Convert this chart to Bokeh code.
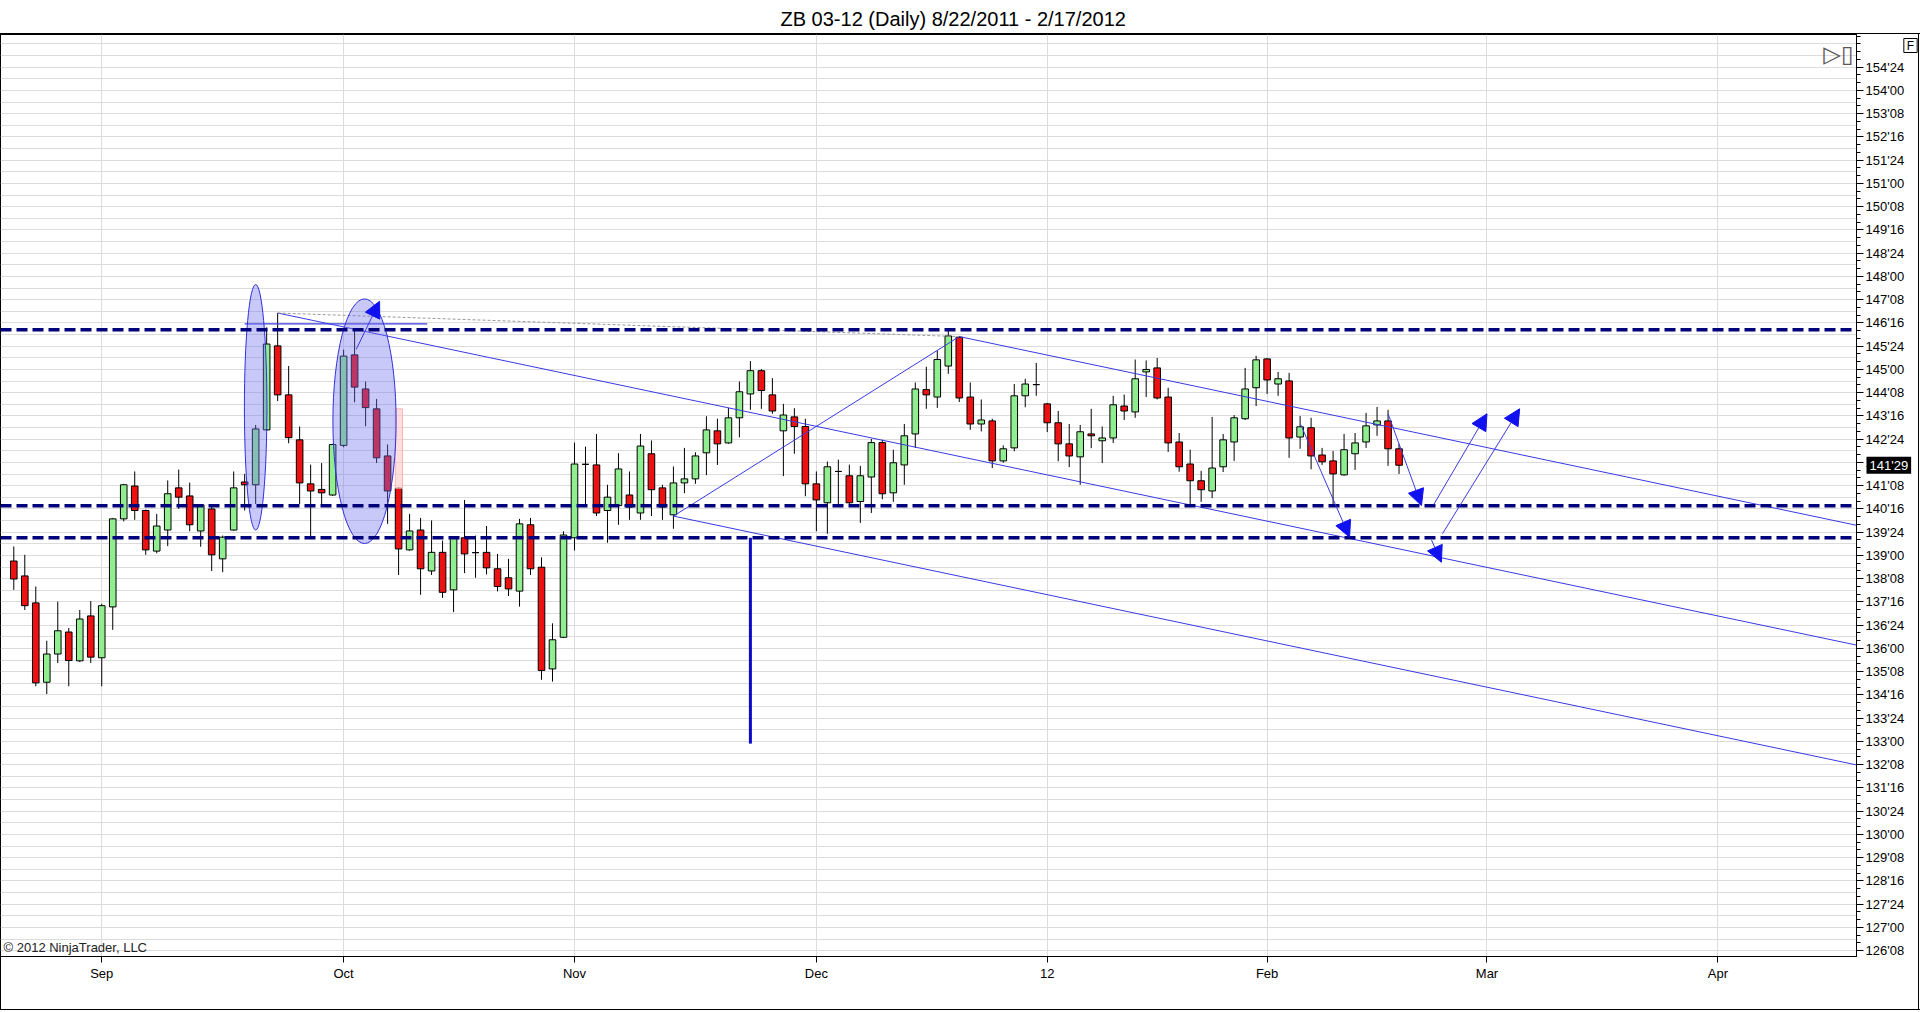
from bokeh.plotting import figure
from bokeh.models import (Range1d, FixedTicker, CustomJSTickFormatter, Span, Label,
                          Arrow, NormalHead, ColumnDataSource)
from bokeh.embed import file_html
from bokeh.resources import INLINE

title_text = "ZB 03-12 (Daily)  8/22/2011 - 2/17/2012"
copyright_text = "\u00a9 2012 NinjaTrader, LLC"
last_price_text = "141'29"
last_price = 141.906

# Daily OHLC, one bar per trading day (index 0 = 8/22/2011, last = 2/17/2012)
opens = [138.82, 138.34, 137.47, 134.91, 135.82, 136.53, 135.60, 137.05, 135.70, 137.34,
         140.18, 141.24, 140.45, 139.14, 139.82, 141.18, 140.92, 139.79, 140.50, 138.89,
         139.82, 141.37, 141.28, 143.05, 145.76, 144.18, 142.73, 141.31, 141.13, 140.95,
         142.55, 145.47, 144.37, 143.73, 142.21, 141.17, 139.18, 139.82, 138.50, 139.10,
         137.89, 139.57, 139.09, 139.10, 138.57, 138.28, 137.85, 139.99, 138.62, 135.34,
         136.36, 139.57, 141.94, 141.92, 140.45, 140.61, 140.95, 140.37, 142.28, 141.18,
         140.31, 141.34, 141.47, 142.31, 143.02, 142.63, 143.44, 144.21, 144.96, 144.18,
         143.02, 143.47, 143.16, 141.31, 140.70, 141.71, 141.57, 140.74, 141.53, 142.64,
         141.02, 141.92, 142.92, 144.35, 144.11, 145.11, 146.04, 144.11, 143.24, 143.34,
         142.05, 142.47, 144.15, 144.51, 143.89, 143.28, 142.60, 142.18, 142.92, 142.70,
         142.79, 143.82, 143.63, 144.92, 145.05, 144.11, 142.66, 141.95, 141.41, 141.08,
         141.86, 142.66, 143.41, 144.41, 145.34, 144.53, 144.63, 142.82, 143.12, 142.24,
         142.05, 141.60, 142.28, 142.66, 143.21, 143.34, 142.44]
highs = [139.29, 139.02, 138.00, 136.25, 137.51, 136.66, 137.24, 137.53, 137.44, 140.21,
         141.31, 141.71, 140.48, 140.34, 141.42, 141.77, 141.35, 140.66, 140.66, 139.64,
         141.71, 141.63, 143.21, 146.36, 146.82, 145.11, 143.16, 141.93, 141.98, 142.60,
         145.64, 146.31, 144.61, 144.05, 142.58, 141.20, 140.34, 140.21, 140.13, 139.48,
         139.59, 140.79, 139.64, 139.95, 139.05, 138.89, 140.18, 140.21, 138.94, 136.81,
         139.78, 142.64, 142.51, 142.92, 141.28, 142.30, 141.71, 142.92, 142.71, 141.28,
         141.87, 142.47, 142.33, 143.49, 143.41, 143.76, 144.61, 145.27, 145.01, 144.72,
         143.89, 143.75, 143.41, 141.71, 142.03, 142.09, 141.93, 141.89, 142.76, 142.73,
         142.41, 143.24, 144.58, 145.09, 145.61, 146.28, 146.08, 144.58, 144.03, 143.41,
         142.55, 144.53, 144.70, 145.21, 143.92, 143.66, 143.24, 143.21, 143.73, 143.16,
         144.15, 144.19, 145.32, 145.29, 145.37, 144.41, 142.95, 142.41, 141.73, 143.47,
         142.92, 143.53, 145.05, 145.44, 145.37, 144.92, 144.89, 143.50, 143.44, 142.47,
         142.37, 142.92, 142.95, 143.60, 143.79, 143.70, 142.60]
lows = [137.89, 137.24, 134.78, 134.53, 135.53, 134.78, 135.56, 135.53, 134.78, 136.60,
        140.10, 140.15, 139.02, 139.07, 139.30, 140.50, 139.78, 139.28, 138.50, 138.46,
        139.80, 140.45, 140.66, 143.02, 143.98, 142.62, 140.66, 139.59, 140.66, 140.92,
        142.49, 143.94, 143.17, 141.98, 140.02, 138.37, 139.15, 137.73, 138.37, 137.63,
        137.17, 138.43, 138.28, 138.39, 137.84, 137.69, 137.35, 138.37, 134.99, 134.93,
        136.34, 139.16, 140.61, 140.27, 139.41, 139.99, 140.15, 140.15, 140.27, 140.15,
        139.86, 141.01, 141.31, 141.59, 141.92, 142.60, 142.81, 143.70, 143.73, 143.57,
        141.56, 142.28, 140.91, 139.78, 139.70, 140.66, 140.66, 140.05, 140.37, 140.81,
        140.73, 141.28, 142.47, 143.73, 143.76, 144.86, 143.95, 143.05, 143.00, 141.82,
        141.99, 142.36, 143.78, 144.15, 142.98, 142.04, 141.85, 141.28, 142.46, 141.98,
        142.63, 143.37, 143.44, 144.11, 144.03, 142.34, 141.70, 140.60, 140.73, 140.85,
        141.69, 142.05, 143.37, 143.82, 144.21, 144.15, 142.15, 142.44, 141.78, 141.92,
        140.66, 141.57, 141.76, 142.47, 142.86, 141.89, 141.63]
closes = [138.24, 137.38, 134.89, 135.82, 136.57, 135.61, 136.95, 135.72, 137.38, 140.18,
          141.28, 140.45, 139.18, 139.95, 140.99, 140.88, 139.99, 140.63, 139.02, 139.59,
          141.18, 141.28, 143.08, 145.82, 144.18, 142.80, 141.34, 141.08, 141.02, 142.58,
          145.43, 144.43, 143.77, 142.15, 141.08, 139.21, 139.79, 138.57, 139.10, 137.81,
          139.57, 139.05, 139.09, 138.60, 138.00, 137.92, 140.02, 138.57, 135.29, 136.28,
          139.66, 141.95, 141.94, 140.37, 140.88, 141.79, 140.56, 142.53, 141.12, 140.56,
          141.34, 141.47, 142.21, 143.05, 142.60, 143.44, 144.28, 144.96, 144.32, 143.66,
          143.53, 143.16, 141.31, 140.79, 141.86, 141.71, 140.70, 141.57, 142.64, 140.99,
          141.99, 142.86, 144.37, 144.18, 145.32, 146.08, 144.08, 143.24, 143.37, 142.05,
          142.44, 144.15, 144.53, 144.51, 143.28, 142.60, 142.21, 142.99, 142.86, 142.79,
          143.86, 143.66, 144.70, 145.00, 144.08, 142.63, 141.86, 141.41, 141.12, 141.82,
          142.73, 143.44, 144.37, 145.31, 144.66, 144.70, 142.79, 143.15, 142.21, 142.02,
          141.63, 142.41, 142.63, 143.18, 143.34, 142.44, 141.91]

month_ticks = [8, 30, 51, 73, 94, 114, 134, 155]
month_labels = ["Sep", "Oct", "Nov", "Dec", "12", "Feb", "Mar", "Apr"]

# drawings
dashed_levels = [146.28, 140.60, 139.57]
pf_x = [24, 86, 60]            # pitchfork anchors (bar index)
pf_y = [146.82, 146.06, 140.27]
hline_x = [21.0, 37.6]
hline_y = [146.47, 146.47]
vline_x = [67, 67]
vline_y = [139.57, 132.93]
ell_x = [22.0, 31.9]
ell_y = [143.78, 143.33]
ell_w = [2.05, 5.75]
ell_h = [7.92, 7.89]
pink_box = [34.7, 35.35, 143.73, 141.17]  # left, right, top, bottom
arrow_x0 = [31.15, 117.06, 125.0, 129.15, 129.95, 128.95]
arrow_y0 = [145.65, 143.22, 143.57, 140.64, 139.70, 139.50]
arrow_x1 = [33.27, 121.5, 128.04, 134.0, 136.97, 129.85]
arrow_y1 = [147.20, 139.59, 140.61, 143.57, 143.73, 138.78]

# ---- layout (canvas pixels)
W, H = 1920, 1012
FRAME_L, FRAME_R, FRAME_T, FRAME_B = 0, 1857, 34, 956
BAR_PX, X0_PX = 11.0, 13.3
PT_PX, Y0_PX, Y0_P = 31.0, 66.7, 154.75
def ix(px):
    return (px - X0_PX) / BAR_PX
def py(pix):
    return Y0_P - (pix - Y0_PX) / PT_PX
def to_canvas_y(price):
    return Y0_PX + (Y0_P - price) * PT_PX

FONT = "Liberation Sans"
p = figure(width=W, height=H, output_backend="svg", toolbar_location=None,
           x_range=Range1d(ix(FRAME_L), ix(FRAME_R)), y_range=Range1d(py(FRAME_B), py(FRAME_T)),
           y_axis_location="right", min_border_left=FRAME_L, min_border_right=W - FRAME_R,
           min_border_top=FRAME_T, min_border_bottom=H - FRAME_B,
           background_fill_color="white", border_fill_color=None)
p.outline_line_color = "black"
p.outline_line_width = 1
# outer window box lines (drawn by CSS under the transparent border area)
p.styles = {
    "background-image": "linear-gradient(#000,#000), linear-gradient(#000,#000), "
                        "linear-gradient(#000,#000), linear-gradient(#000,#000)",
    "background-size": "100% 1px, 1px 977px, 100% 1px, 1px 977px",
    "background-position": "0px 33px, 1918px 33px, 0px 1009px, 0px 33px",
    "background-repeat": "no-repeat",
    "background-color": "white",
}

# title
p.title.text = title_text
p.title.text_font = FONT
p.title.text_font_size = "20px"
p.title.text_font_style = "normal"
p.title.text_color = "black"
p.title.align = "left"
p.title.offset = 780
p.title.standoff = 9

# grids
grid_levels = [126.25 + 0.375 * k for k in range(0, 80)]
p.ygrid.ticker = FixedTicker(ticks=grid_levels)
p.ygrid.grid_line_color = "#dcdcdc"
p.xgrid.ticker = FixedTicker(ticks=month_ticks)
p.xgrid.grid_line_color = "#dcdcdc"

# y axis (32nds)
price_ticks = [126.25 + 0.75 * k for k in range(39)]
minor_ticks = [126.0 + 0.25 * k for k in range(0, 120)]
ya = p.yaxis[0]
ya.ticker = FixedTicker(ticks=price_ticks, minor_ticks=minor_ticks)
ya.formatter = CustomJSTickFormatter(code="""
const w = Math.floor(tick + 1e-6);
const f = Math.round((tick - w) * 32);
return w + "'" + (f < 10 ? "0" + f : "" + f);
""")
ya.axis_line_color = "black"
ya.major_tick_out = 7
ya.major_tick_in = 0
ya.minor_tick_out = 4
ya.minor_tick_in = 0
ya.major_label_standoff = 2
ya.major_label_text_font = FONT
ya.major_label_text_font_size = "13px"
ya.major_label_text_color = "black"

xa = p.xaxis[0]
xa.ticker = FixedTicker(ticks=month_ticks)
xa.formatter = CustomJSTickFormatter(args=dict(mpos=month_ticks, mtxt=month_labels), code="""
const i = mpos.indexOf(Math.round(tick));
return i >= 0 ? mtxt[i] : "";
""")
xa.axis_line_color = "black"
xa.major_tick_out = 6
xa.major_tick_in = 0
xa.minor_tick_line_color = None
xa.major_label_standoff = 3
xa.major_label_text_font = FONT
xa.major_label_text_font_size = "13px"
xa.major_label_text_color = "black"

# candles
idx = list(range(len(opens)))
tops = [max(o, c) for o, c in zip(opens, closes)]
bots = [min(o, c) for o, c in zip(opens, closes)]
cols = ["#90ee90" if c > o else ("#ee1111" if c < o else "black") for o, c in zip(opens, closes)]
src = ColumnDataSource(dict(x=idx, o=opens, h=highs, l=lows, c=closes, t=tops, b=bots, col=cols))
p.segment(x0="x", y0="h", x1="x", y1="l", source=src, line_color="black", line_width=1)
p.vbar(x="x", top="t", bottom="b", width=0.6, source=src, fill_color="col",
       line_color="black", line_width=1)

# pink region
p.quad(left=[pink_box[0]], right=[pink_box[1]], top=[pink_box[2]], bottom=[pink_box[3]],
       fill_color="#ffc8c8", fill_alpha=0.6, line_color="#ffb4b4")

# dashed support / resistance levels
for lv in dashed_levels:
    p.add_layout(Span(location=lv, dimension="width", line_color="#00007a",
                      line_width=3.5, line_dash="11 5"))

# Andrews pitchfork
x1_, x2_, x3_ = pf_x
y1_, y2_, y3_ = pf_y
mx, my = (x2_ + x3_) / 2, (y2_ + y3_) / 2
slope = (my - y1_) / (mx - x1_)
x_far = 175
LC = "#3a3ae6"
for (sx, sy) in [(x1_, y1_), (x2_, y2_), (x3_, y3_)]:
    p.line([sx, x_far], [sy, sy + slope * (x_far - sx)], line_color=LC, line_width=1)
p.line([x3_, x2_], [y3_, y2_], line_color=LC, line_width=1)
p.line([x1_, x2_], [y1_, y2_], line_color="#999999", line_width=1, line_dash="3 2")

p.line(hline_x, hline_y, line_color=LC, line_width=1.2)
p.line(vline_x, vline_y, line_color="#0a0ac8", line_width=3)

# ellipses
p.ellipse(x=ell_x, y=ell_y, width=ell_w, height=ell_h, fill_color="#7070f0",
          fill_alpha=0.38, line_color="#3030e0", line_width=1)

# arrows
asrc = ColumnDataSource(dict(x0=arrow_x0, y0=arrow_y0, x1=arrow_x1, y1=arrow_y1))
p.add_layout(Arrow(end=NormalHead(size=16, fill_color="#1010f0", line_color="#1010f0"),
                   x_start="x0", y_start="y0", x_end="x1", y_end="y1", source=asrc,
                   line_color=LC, line_width=1))

# texts inside the frame
p.add_layout(Label(x=3, y=947, x_units="canvas", y_units="canvas", text=copyright_text,
                   text_align="left", text_baseline="middle", text_font=FONT,
                   text_font_size="13px", text_color="#222222"))
p.add_layout(Label(x=1838, y=53, x_units="canvas", y_units="canvas", text="\u25b7\u25af",
                   text_align="center", text_baseline="middle", text_font="DejaVu Sans",
                   text_font_size="23px", text_color="#555555"))

# texts outside the frame: in side panels (not clipped), canvas positioned
p.add_layout(Label(x=1866, y=to_canvas_y(last_price), x_units="canvas", y_units="canvas",
                   text=last_price_text, text_align="left", text_baseline="middle",
                   text_font=FONT, text_font_size="13px", text_color="white",
                   background_fill_color="black", padding=(3, 1)), "below")
p.add_layout(Label(x=1910, y=45, x_units="canvas", y_units="canvas", text="F",
                   text_align="center", text_baseline="middle", text_font=FONT,
                   text_font_size="12px", text_color="black",
                   border_line_color="black", padding=(3, 0)), "right")

open("out.html", "w").write(file_html(p, INLINE))
